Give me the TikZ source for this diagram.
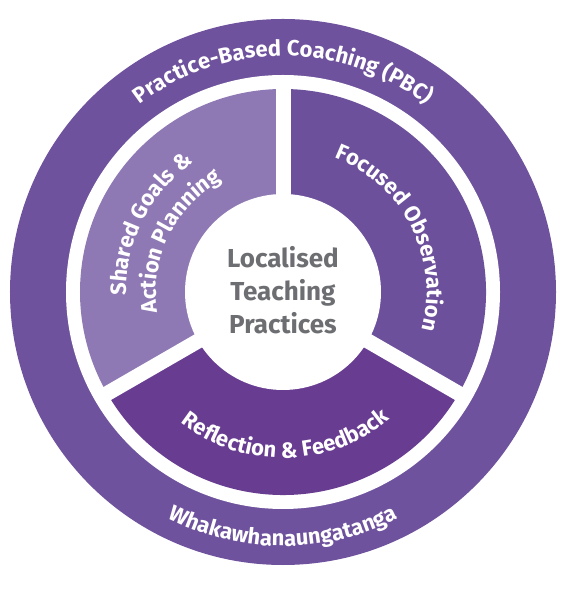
\documentclass[tikz,border=0pt]{standalone}
\usepackage{fontspec}
\setmainfont{Fira Sans}
\usetikzlibrary{decorations.text}
\definecolor{ringpurple}{HTML}{6F529D}
\definecolor{goalpurple}{HTML}{8F79B4}
\definecolor{obspurple}{HTML}{6D509B}
\definecolor{refpurple}{HTML}{683C91}
\definecolor{centregrey}{HTML}{6D6E71}
\newcommand\wheelfont{\fontsize{22}{26}\selectfont\bfseries\color{white}}
\tikzset{
  ringtext/.style={decorate, decoration={text along path, text align=center, text={#1}}},
  gapline/.style={white, line width=15pt},
}
\begin{document}
\begin{tikzpicture}[x=1pt, y=1pt]
        	\useasboundingbox (-283,-301) rectangle (284,292);
        	% Rings and segments:
        	\fill[ringpurple] (0,0) circle[radius=273pt];
        	\fill[white] (0,0) circle[radius=217pt];
        	\fill[goalpurple] (90:203) arc[start angle=90, end angle=210, radius=203pt] -- (210:97) arc[start angle=210, end angle=90, radius=97pt] -- cycle;
        	\fill[obspurple] (-30:203) arc[start angle=-30, end angle=90, radius=203pt] -- (90:97) arc[start angle=90, end angle=-30, radius=97pt] -- cycle;
        	\fill[refpurple] (210:203) arc[start angle=210, end angle=330, radius=203pt] -- (330:97) arc[start angle=330, end angle=210, radius=97pt] -- cycle;
        	\coordinate (C) at (0,0);
        	\coordinate (G1) at (90:212);
        	\coordinate (G2) at (210:212);
        	\coordinate (G3) at (330:212);
        	\draw[gapline] (C) -- (G1);
        	\draw[gapline] (C) -- (G2);
        	\draw[gapline] (C) -- (G3);
        	\fill[white] (C) circle[radius=98pt];
        	% Texts along the arcs:
        	\path[ringtext={|\wheelfont|Practice-Based Coaching (PBC)}] (165:236) arc[start angle=165, end angle=15, radius=236pt];
        	\path[ringtext={|\wheelfont|Whakawhanaungatanga}] (200:254) arc[start angle=200, end angle=340, radius=254pt];
        	\path[ringtext={|\wheelfont|Shared Goals {\&}}] (213:157) arc[start angle=213, end angle=93, radius=157pt];
        	\path[ringtext={|\wheelfont|Action Planning}] (214:127) arc[start angle=214, end angle=94, radius=127pt];
        	\path[ringtext={|\wheelfont|Focused Observation}] (88:144) arc[start angle=88, end angle=-34, radius=144pt];
        	\path[ringtext={|\wheelfont|Reflection {\&} Feedback}] (208:166) arc[start angle=208, end angle=334, radius=166pt];
        	\node[align=center, text=centregrey, font=\fontsize{26}{33}\selectfont\bfseries] (centre) at (0,2) {Localised\\Teaching\\Practices};
\end{tikzpicture}
\end{document}
